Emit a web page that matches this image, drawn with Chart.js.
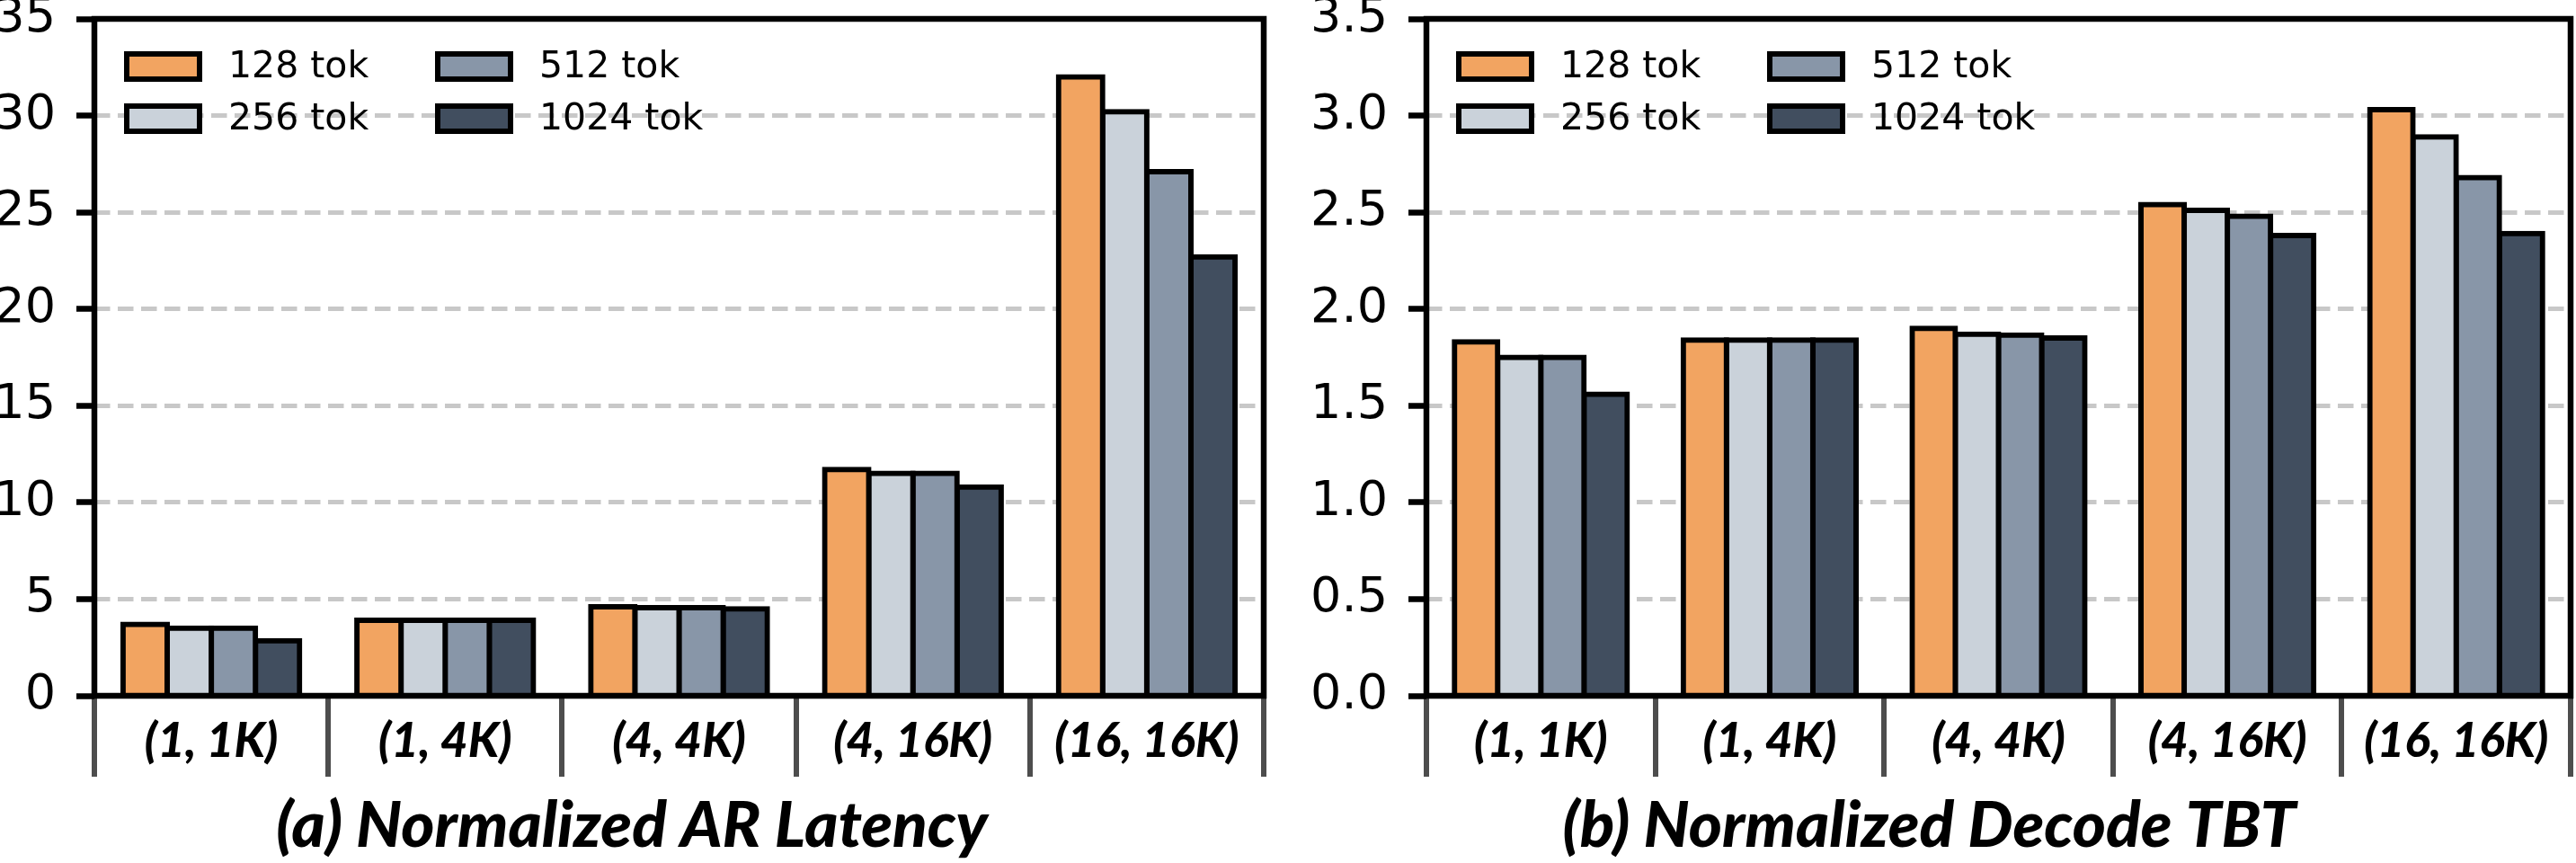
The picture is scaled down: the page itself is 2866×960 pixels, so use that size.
<!DOCTYPE html>
<html>
<head>
<meta charset="utf-8">
<script src="https://cdn.jsdelivr.net/npm/chart.js@4.4.1/dist/chart.umd.min.js"></script>
<style>
  html, body { margin: 0; padding: 0; background: #fff; }
  #wrap { position: relative; width: 2866px; height: 960px; }
  .panel { position: absolute; top: 0; width: 1433px; height: 960px; }
</style>
</head>
<body>
<div id="wrap">
  <div class="panel" style="left:0"><canvas id="latencyChart" width="1433" height="960"></canvas></div>
  <div class="panel" style="left:1433px"><canvas id="tbtChart" width="1433" height="960"></canvas></div>
</div>
<script>
// datos
const categories = ['(1, 1K)', '(1, 4K)', '(4, 4K)', '(4, 16K)', '(16, 16K)'];
const seriesLabels = ['128 tok', '256 tok', '512 tok', '1024 tok'];
const seriesColors = ['#F2A461', '#CAD2DA', '#8896A8', '#414E5F'];

const latency128 = [3.7, 3.9, 4.6, 11.7, 32.0];
const latency256 = [3.5, 3.9, 4.55, 11.5, 30.2];
const latency512 = [3.5, 3.9, 4.55, 11.5, 27.1];
const latency1024 = [2.85, 3.9, 4.5, 10.8, 22.7];

const tbt128 = [1.83, 1.84, 1.90, 2.54, 3.03];
const tbt256 = [1.75, 1.84, 1.87, 2.51, 2.89];
const tbt512 = [1.75, 1.84, 1.865, 2.48, 2.68];
const tbt1024 = [1.56, 1.84, 1.85, 2.38, 2.39];

const latencyTicks = [0, 5, 10, 15, 20, 25, 30, 35];
const tbtTicks = [0.0, 0.5, 1.0, 1.5, 2.0, 2.5, 3.0, 3.5];

// marco negro alrededor del area
const framePlugin = {
    id: 'frame',
    afterDatasetsDraw(chart) {
        const { ctx, chartArea: a } = chart;
        ctx.save();
        ctx.strokeStyle = '#000';
        ctx.lineWidth = 6.5;
        ctx.strokeRect(a.left, a.top, a.right - a.left, a.bottom - a.top);
        ctx.restore();
    }
};

// leyenda 2x2 dentro del grafico
const boxLegend = {
    id: 'boxLegend',
    afterDraw(chart) {
        const { ctx, chartArea: a } = chart;
        ctx.save();
        chart.data.datasets.forEach((ds, i) => {
            const col = Math.floor(i / 2);
            const row = i % 2;
            const bx = a.left + (col ? 379 : 33);
            const cy = a.top + (row ? 111 : 53);
            ctx.fillStyle = ds.backgroundColor;
            ctx.fillRect(bx + 3, cy - 14, 81, 28);
            ctx.lineWidth = 6;
            ctx.strokeStyle = '#000';
            ctx.strokeRect(bx + 3, cy - 14, 81, 28);
            ctx.fillStyle = '#000';
            ctx.font = '41px "DejaVu Sans"';
            ctx.textBaseline = 'middle';
            ctx.textAlign = 'left';
            ctx.fillText(ds.label, bx + 116, cy + 1);
        });
        ctx.restore();
    }
};

function makeDatasets(values) {
    return values.map((v, i) => ({
        label: seriesLabels[i],
        data: v,
        backgroundColor: seriesColors[i],
        borderColor: '#000',
        borderWidth: 6,
        inflateAmount: 3,
        categoryPercentage: 0.755,
        barPercentage: 1.0
    }));
}

function makeChart(canvasId, values, ticksArr, decimals, title, yWidth, padRight) {
    const ctx = document.getElementById(canvasId).getContext('2d');
    return new Chart(ctx, {
        type: 'bar',
        data: {
            labels: categories,
            datasets: makeDatasets(values)
        },
        options: {
            responsive: false,
            animation: false,
            devicePixelRatio: 1,
            layout: { padding: { top: 21, right: padRight, bottom: 0, left: 0 } },
            plugins: {
                legend: { display: false },
                tooltip: { enabled: false },
                title: {
                    display: true,
                    position: 'bottom',
                    text: title,
                    color: '#000',
                    font: { family: 'Lato', size: 71, weight: 900, style: 'italic', lineHeight: 1.0 },
                    padding: { top: 20, bottom: 5 }
                }
            },
            scales: {
                x: {
                    grid: {
                        display: true, offset: true, drawOnChartArea: false, drawTicks: true,
                        tickLength: 90, tickWidth: 6, tickColor: '#4d4d4d', lineWidth: 6, color: '#4d4d4d'
                    },
                    border: { display: false },
                    ticks: {
                        color: '#000', autoSkip: false, maxRotation: 0, padding: -71,
                        font: { family: 'Lato', size: 53, weight: 900, style: 'italic' }
                    },
                    afterFit: s => { s.height = 90; s.paddingLeft = 0; s.paddingRight = 0; }
                },
                y: {
                    min: ticksArr[0],
                    max: ticksArr[ticksArr.length - 1],
                    afterBuildTicks: s => { s.ticks = ticksArr.map(v => ({ value: v })); },
                    grid: {
                        color: '#c8c8c8', lineWidth: 5, drawTicks: true,
                        tickLength: 20, tickWidth: 6.5, tickColor: '#000', tickBorderDash: []
                    },
                    border: { display: false, dash: [17.5, 8.5] },
                    ticks: {
                        color: '#000', padding: 23,
                        font: { family: 'DejaVu Sans', size: 54 },
                        callback: v => v.toFixed(decimals)
                    },
                    afterFit: s => { s.width = yWidth; s.paddingTop = 0; s.paddingBottom = 0; }
                }
            }
        },
        plugins: [framePlugin, boxLegend]
    });
}

makeChart('latencyChart', [latency128, latency256, latency512, latency1024],
    latencyTicks, 0, '(a) Normalized AR Latency', 105, 27);
makeChart('tbtChart', [tbt128, tbt256, tbt512, tbt1024],
    tbtTicks, 1, '(b) Normalized Decode TBT', 154, 6);
</script>
</body>
</html>
